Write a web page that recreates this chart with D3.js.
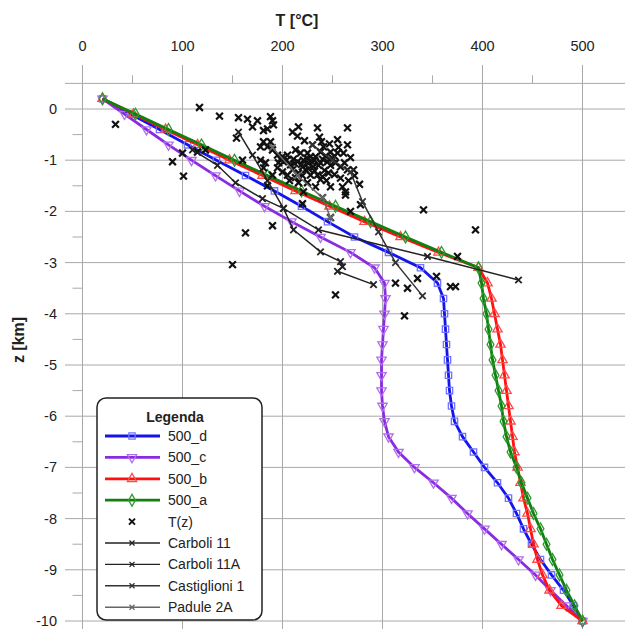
<!DOCTYPE html>
<html>
<head>
<meta charset="utf-8">
<title>T(z) profiles</title>
<style>
  body { margin: 0; background: #fff; }
  svg text { font-family: "Liberation Sans", Arial, sans-serif; fill: #222; }
  .grid line { stroke: #a9a9a9; stroke-width: 1; }
</style>
</head>
<body>
<div id="chart"></div>
<script src="https://d3js.org/d3.v7.min.js"></script>
<script>
// depth levels (km) of the model curves
var zLevels = [0.2, -0.1, -0.4, -0.7, -1.0, -1.3, -1.6, -1.9, -2.2, -2.5, -2.8, -3.1,
  -3.4, -3.7, -4.0, -4.3, -4.6, -4.9, -5.2, -5.5, -5.8, -6.1, -6.4, -6.7, -7.0,
  -7.3, -7.6, -7.9, -8.2, -8.5, -8.8, -9.1, -9.4, -9.7, -10.0];

// temperature (°C) of each model at those depths
var t500d = [20, 48, 77, 105, 134, 163, 192, 219, 245, 272, 306, 338,
  355, 361, 362, 363, 364, 365, 366, 367, 369, 372, 380, 391, 402,
  415, 426, 434, 441, 449, 458, 469, 481, 491, 500];
var t500c = [20, 42, 64, 86, 109, 133, 157, 182, 209, 238, 268, 292,
  302, 303, 302, 301, 300, 299, 299, 299, 300, 302, 306, 316, 332,
  351, 369, 385, 402, 419, 436, 453, 468, 484, 500];
var t500b = [20, 51, 83, 115, 147, 180, 213, 247, 282, 318, 356, 396,
  405, 409, 412, 415, 418, 420, 422, 424, 426, 428, 430, 432, 435,
  438, 441, 445, 448, 451, 455, 460, 467, 479, 500];
var t500a = [20, 53, 86, 119, 152, 185, 219, 253, 288, 323, 359, 396,
  399, 401, 404, 406, 408, 410, 413, 416, 419, 421, 424, 428, 434,
  439, 445, 451, 458, 464, 470, 477, 484, 492, 500];

// measured temperatures T(z): [T, z]
var measured = [
  [117, 0.03], [137, -0.14], [156, -0.17], [165, -0.2], [175, -0.23], [170, -0.35],
  [188, -0.15], [190, -0.23], [191, -0.31], [185, -0.39], [181, -0.42], [154, -0.57],
  [216, -0.35], [210, -0.45], [215, -0.53], [235, -0.37], [237, -0.55], [239, -0.64],
  [241, -0.74], [181, -0.64], [188, -0.64], [185, -0.74], [178, -0.74], [190, -0.8],
  [195, -0.9], [200, -0.93], [205, -0.9], [213, -0.8], [218, -0.86], [225, -0.86],
  [228, -0.93], [233, -0.93], [238, -0.84], [248, -0.84], [255, -0.86], [261, -0.86],
  [250, -0.96], [245, -1.03], [253, -1.05], [258, -1.13], [265, -1.19], [271, -1.19],
  [201, -1.03], [208, -1.09], [215, -1.03], [221, -1.0], [226, -1.06], [231, -1.13],
  [236, -1.1], [210, -1.19], [216, -1.25], [223, -1.19], [228, -1.29], [235, -1.29],
  [238, -1.38], [205, -1.29], [200, -1.23], [190, -1.29], [181, -1.15], [183, -1.05],
  [160, -1.0], [178, -1.0], [196, -1.05], [216, -1.44], [225, -1.44], [233, -1.52],
  [248, -1.52], [260, -1.52], [263, -1.62], [221, -1.62], [185, -1.5], [242, -1.2],
  [248, -1.1], [252, -1.28], [258, -1.35], [244, -1.4], [207, -1.4], [195, -1.15],
  [211, -0.98], [220, -1.13], [229, -1.02], [240, -0.98], [268, -0.95], [277, -1.47],
  [265, -0.7], [255, -0.6], [230, -0.7], [222, -0.62], [265, -0.37],
  [204, -1.0], [212, -1.06], [219, -1.08], [224, -0.96], [232, -1.0], [238, -1.05],
  [243, -0.92], [252, -0.92], [226, -1.17], [232, -1.21], [246, -1.25], [240, -1.32],
  [213, -1.34], [220, -1.3], [198, -0.98], [262, -1.05], [256, -0.75], [247, -0.68],
  [272, -1.3], [266, -1.4],
  [33, -0.3], [90, -1.03], [101, -1.31], [163, -2.42], [150, -3.04], [190, -2.28],
  [220, -1.85], [248, -2.12], [268, -2.0], [278, -1.87], [240, -1.73], [263, -1.68],
  [341, -1.97], [393, -2.36], [253, -3.63], [322, -4.04], [335, -3.31], [313, -3.4],
  [325, -3.5], [368, -3.47], [373, -3.47], [354, -3.27], [375, -2.88],
  [100, -0.86], [115, -0.84], [123, -0.8]
];

// well logs: [T, z]
var carboli11 = [[156, -0.45], [170, -0.9], [185, -1.4], [201, -1.94], [211, -2.36],
  [238, -2.79], [258, -2.98], [260, -3.08], [255, -3.17], [291, -3.43]];
var carboli11A = [[110, -0.8], [135, -1.1], [153, -1.44], [180, -1.75], [201, -1.94],
  [236, -2.36], [345, -2.88], [436, -3.34]];
var castiglioni1 = [[230, -0.7], [250, -1.0], [268, -1.23], [280, -1.81], [296, -2.4],
  [313, -3.0], [340, -3.65]];
var padule2A = [[190, -0.75], [215, -1.3], [240, -1.73], [248, -2.12]];

var tTicks = [0, 100, 200, 300, 400, 500];
var zTicks = [0, -1, -2, -3, -4, -5, -6, -7, -8, -9, -10];

var width = 625, height = 629;

var svg = d3.select("#chart").append("svg")
  .attr("width", width)
  .attr("height", height);

var x = d3.scaleLinear().domain([0, 500]).range([82.5, 582.5]);
var y = d3.scaleLinear().domain([0, -10]).range([109, 621]);

// grid
var grid = svg.append("g").attr("class", "grid");
grid.selectAll(".v").data(tTicks).enter().append("line")
  .attr("x1", function(d) { return x(d); }).attr("x2", function(d) { return x(d); })
  .attr("y1", 65).attr("y2", height);
grid.selectAll(".h").data(zTicks).enter().append("line")
  .attr("x1", 65).attr("x2", width)
  .attr("y1", function(d) { return y(d); }).attr("y2", function(d) { return y(d); });
grid.append("line")
  .attr("x1", 65).attr("x2", width)
  .attr("y1", y(0.5)).attr("y2", y(0.5));
// minor ticks
grid.selectAll(".mt").data(d3.range(50, 500, 100)).enter().append("line")
  .attr("x1", function(d) { return x(d); }).attr("x2", function(d) { return x(d); })
  .attr("y1", y(0.5) - 8).attr("y2", y(0.5));
grid.selectAll(".ml").data(d3.range(-0.5, -10, -1)).enter().append("line")
  .attr("x1", x(0) - 10).attr("x2", x(0))
  .attr("y1", function(d) { return y(d); }).attr("y2", function(d) { return y(d); });

// tick labels
svg.selectAll(".tl").data(tTicks).enter().append("text")
  .attr("x", function(d) { return x(d); })
  .attr("y", 51)
  .attr("text-anchor", "middle")
  .style("font-size", "14.5px")
  .text(function(d) { return d; });
svg.selectAll(".zl").data(zTicks).enter().append("text")
  .attr("x", 57)
  .attr("y", function(d) { return y(d) + 5; })
  .attr("text-anchor", "end")
  .style("font-size", "14.5px")
  .text(function(d) { return d; });

svg.append("text")
  .attr("x", 297).attr("y", 26)
  .attr("text-anchor", "middle")
  .style("font-size", "16px").style("font-weight", "bold")
  .text("T [°C]");
svg.append("text")
  .attr("transform", "translate(24,340) rotate(-90)")
  .attr("text-anchor", "middle")
  .style("font-size", "16px").style("font-weight", "bold")
  .text("z [km]");

// model curves
var models = [
  { name: "500_d", t: t500d, color: "#1414ee", mark: "#7373ff", sym: d3.symbolSquare, rot: 0, size: 40 },
  { name: "500_c", t: t500c, color: "#8a2be2", mark: "#b070ee", sym: d3.symbolTriangle, rot: 180, size: 38 },
  { name: "500_b", t: t500b, color: "#ff1111", mark: "#ff4a4a", sym: d3.symbolTriangle, rot: 0, size: 38 },
  { name: "500_a", t: t500a, color: "#108010", mark: "#2f9a2f", sym: d3.symbolDiamond, rot: 0, size: 40 }
];

var line = d3.line()
  .x(function(d) { return x(d[0]); })
  .y(function(d) { return y(d[1]); });

models.forEach(function(m) {
  var pts = m.t.map(function(t, i) { return [t, zLevels[i]]; });
  svg.append("path")
    .attr("d", line(pts))
    .attr("fill", "none")
    .attr("stroke", m.color)
    .attr("stroke-width", 2.8);
  svg.selectAll(null).data(pts).enter().append("path")
    .attr("d", d3.symbol().type(m.sym).size(m.size))
    .attr("transform", function(d) {
      return "translate(" + x(d[0]) + "," + y(d[1]) + ") rotate(" + m.rot + ")";
    })
    .attr("fill", "none")
    .attr("stroke", m.mark)
    .attr("stroke-width", 1.3);
});

function cross(s) {
  return "M" + (-s) + "," + (-s) + "L" + s + "," + s + "M" + (-s) + "," + s + "L" + s + "," + (-s);
}

// measured points
svg.selectAll(".m").data(measured).enter().append("path")
  .attr("d", cross(3.4))
  .attr("transform", function(d) { return "translate(" + x(d[0]) + "," + y(d[1]) + ")"; })
  .attr("stroke", "#111")
  .attr("stroke-width", 2.2);

// wells
var wells = [
  { name: "Carboli 11", pts: carboli11, color: "#222" },
  { name: "Carboli 11A", pts: carboli11A, color: "#222" },
  { name: "Castiglioni 1", pts: castiglioni1, color: "#333" },
  { name: "Padule 2A", pts: padule2A, color: "#666" }
];
wells.forEach(function(w) {
  svg.append("path")
    .attr("d", line(w.pts))
    .attr("fill", "none")
    .attr("stroke", w.color)
    .attr("stroke-width", 1.5);
  svg.selectAll(null).data(w.pts).enter().append("path")
    .attr("d", cross(3.2))
    .attr("transform", function(d) { return "translate(" + x(d[0]) + "," + y(d[1]) + ")"; })
    .attr("stroke", w.color)
    .attr("stroke-width", 1.8);
});

// legend
var lg = svg.append("g");
lg.append("rect")
  .attr("x", 97).attr("y", 398)
  .attr("width", 165).attr("height", 222)
  .attr("rx", 9)
  .attr("fill", "#fff")
  .attr("stroke", "#222")
  .attr("stroke-width", 1.5);
lg.append("text")
  .attr("x", 175).attr("y", 422)
  .attr("text-anchor", "middle")
  .style("font-size", "14px").style("font-weight", "bold")
  .text("Legenda");

var rowY = d3.range(9).map(function(i) { return 436 + i * 21.4; });

models.forEach(function(m, i) {
  var ry = rowY[i];
  lg.append("line").attr("x1", 105).attr("x2", 160).attr("y1", ry).attr("y2", ry)
    .attr("stroke", m.color).attr("stroke-width", 2.8);
  lg.append("path")
    .attr("d", d3.symbol().type(m.sym).size(m.size))
    .attr("transform", "translate(132," + ry + ") rotate(" + m.rot + ")")
    .attr("fill", "none").attr("stroke", m.mark).attr("stroke-width", 1.3);
  lg.append("text").attr("x", 168).attr("y", ry + 5)
    .style("font-size", "14px").text(m.name);
});

lg.append("path").attr("d", cross(3))
  .attr("transform", "translate(132," + rowY[4] + ")")
  .attr("stroke", "#111").attr("stroke-width", 2);
lg.append("text").attr("x", 168).attr("y", rowY[4] + 5)
  .style("font-size", "14px").text("T(z)");

wells.forEach(function(w, i) {
  var ry = rowY[5 + i];
  lg.append("line").attr("x1", 105).attr("x2", 160).attr("y1", ry).attr("y2", ry)
    .attr("stroke", w.color).attr("stroke-width", 1.4);
  lg.append("path").attr("d", cross(2.5))
    .attr("transform", "translate(132," + ry + ")")
    .attr("stroke", w.color).attr("stroke-width", 1.3);
  lg.append("text").attr("x", 168).attr("y", ry + 5)
    .style("font-size", "14px").text(w.name);
});
</script>
</body>
</html>
